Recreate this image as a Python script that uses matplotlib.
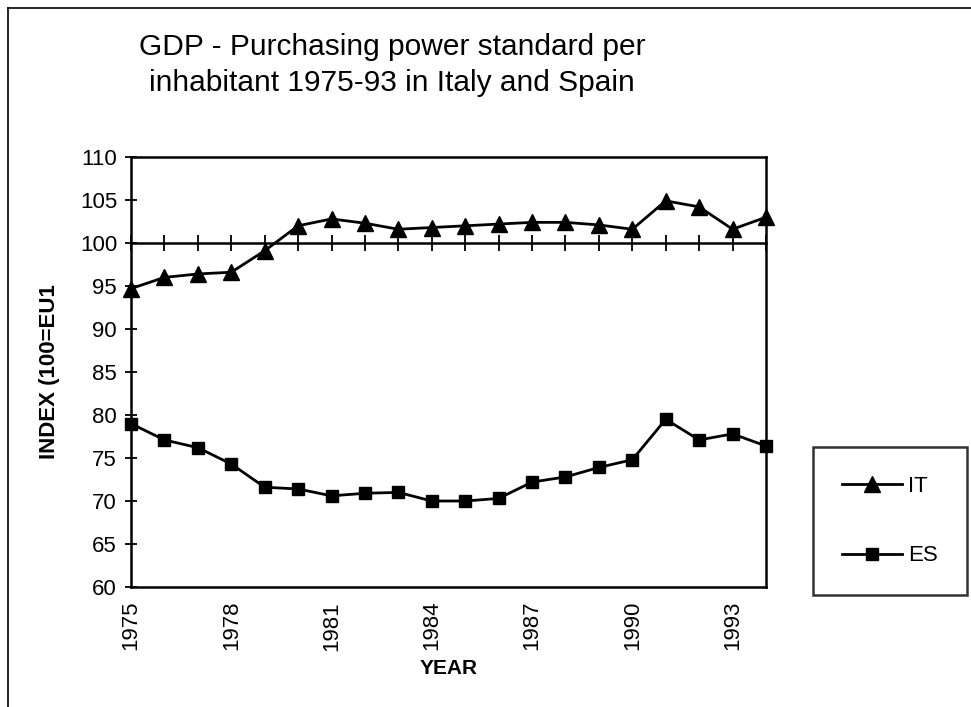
import matplotlib
matplotlib.use("Agg")
import matplotlib.pyplot as plt
from matplotlib.lines import Line2D

years = list(range(1975, 1995))
it_values = [94.7, 96.0, 96.4, 96.6, 99.1, 102.0, 102.8, 102.3, 101.6, 101.8,
             102.0, 102.2, 102.4, 102.4, 102.1, 101.6, 104.9, 104.2, 101.6, 103.0]
es_values = [79.0, 77.1, 76.2, 74.3, 71.6, 71.4, 70.6, 70.9, 71.0, 70.0,
             70.0, 70.3, 72.2, 72.8, 73.9, 74.8, 79.5, 77.1, 77.8, 76.4]
year_labels = ["1975", "1978", "1981", "1984", "1987", "1990", "1993"]
y_ticks = list(range(60, 111, 5))
title_text = "GDP - Purchasing power standard per\ninhabitant 1975-93 in Italy and Spain"

plt.rcParams['font.family'] = ['Liberation Sans', 'DejaVu Sans']

W, H = 971, 707
fig = plt.figure(figsize=(W / 100, H / 100), dpi=100)
ax = fig.add_axes([131 / W, 1 - 587 / H, (766 - 131) / W, (587 - 157) / H])

ax.plot(years, it_values, color='black', lw=2, marker='^', markersize=11.5,
        label='IT', clip_on=False, zorder=3)
ax.plot(years, es_values, color='black', lw=2, marker='s', markersize=8.5,
        label='ES', clip_on=False, zorder=3)

ax.set_xlim(years[0], years[-1])
ax.set_ylim(60, 110)
ax.set_yticks(y_ticks)
ax.tick_params(axis='y', direction='inout', length=8, width=1.3, labelsize=16,
               pad=6)

ax.spines['bottom'].set_position(('data', 100))
ax.set_xticks(years)
ax.tick_params(axis='x', direction='inout', length=12, width=1.3,
               labelbottom=False)
for s in ['left', 'right', 'top', 'bottom']:
    ax.spines[s].set_linewidth(1.8)

sec = ax.secondary_xaxis('bottom')
sec.set_xticks([int(v) for v in year_labels], labels=year_labels, rotation=90)
sec.tick_params(length=0, labelsize=16, pad=10)
sec.spines['bottom'].set_linewidth(1.8)
sec.set_xlabel('YEAR', fontsize=15, fontweight='bold', labelpad=6)

ax.set_ylabel('INDEX (100=EU1', fontsize=16, fontweight='bold', labelpad=14)

fig.text(392 / W, 1 - 65 / H, title_text, ha='center', va='center',
         fontsize=21.5, linespacing=1.4)

leg = ax.legend(loc='center', bbox_to_anchor=(890 / W, 1 - 521 / H),
                bbox_transform=fig.transFigure, fontsize=16, frameon=True,
                fancybox=False, edgecolor='black', labelspacing=2.2,
                handlelength=2.7, handletextpad=0.3, borderpad=1.3,
                borderaxespad=0)
leg.get_frame().set_linewidth(1.8)

fig.add_artist(Line2D([8 / W, 8 / W], [0, 1 - 8 / H], transform=fig.transFigure,
                      color='black', lw=1.2))
fig.add_artist(Line2D([8 / W, 1], [1 - 8 / H, 1 - 8 / H], transform=fig.transFigure,
                      color='black', lw=1.2))

fig.savefig('out.png', dpi=100)
